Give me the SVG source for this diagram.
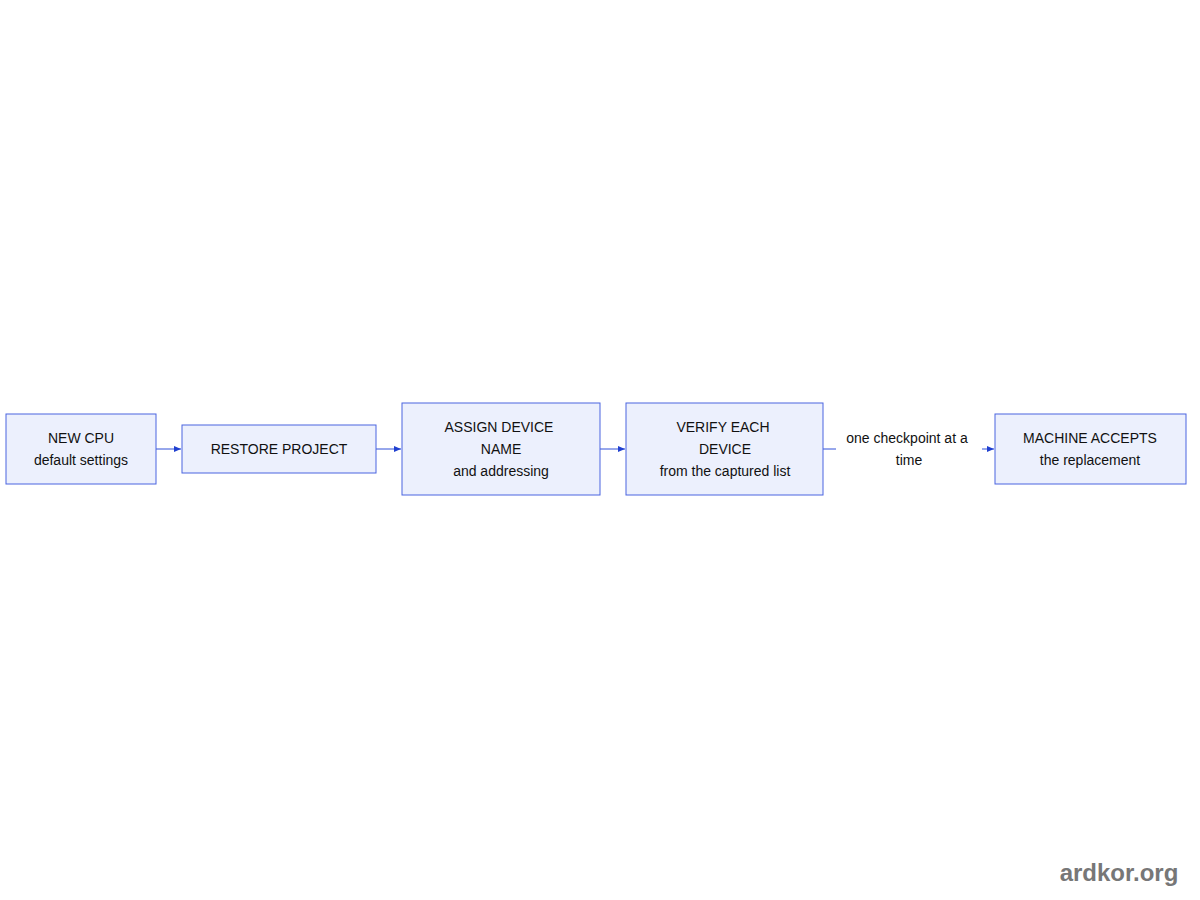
<svg xmlns="http://www.w3.org/2000/svg" width="1200" height="900" viewBox="0 0 1200 900">
<defs>
<style>
.box{fill:#ecf0fd;stroke:#4a64e0;stroke-width:1}
text{font-family:"Liberation Sans",Arial,sans-serif;font-size:14px;fill:#111;text-anchor:middle}
.edge{stroke:#3050d8;stroke-width:1;fill:none}
</style>
<marker id="ah" markerWidth="8" markerHeight="8" refX="7" refY="4" orient="auto" markerUnits="userSpaceOnUse"><path d="M0,1 L7,4 L0,7 z" fill="#2040d0"/></marker>
</defs>
<rect width="1200" height="900" fill="#fff"/>
<g id="connectors">
<line class="edge" x1="156" y1="449" x2="181" y2="449" marker-end="url(#ah)"/>
<line class="edge" x1="376" y1="449" x2="401" y2="449" marker-end="url(#ah)"/>
<line class="edge" x1="600" y1="449" x2="625" y2="449" marker-end="url(#ah)"/>
<line class="edge" x1="823" y1="449" x2="836" y2="449"/>
<line class="edge" x1="982" y1="449" x2="994" y2="449" marker-end="url(#ah)"/>
<text x="907" y="443">one checkpoint at a</text>
<text x="909" y="465">time</text>
</g>
<g id="n1"><rect class="box" x="6" y="414" width="150" height="70"/><text x="81" y="443">NEW CPU</text><text x="81" y="465">default settings</text></g>
<g id="n2"><rect class="box" x="182" y="425" width="194" height="48"/><text x="279" y="454">RESTORE PROJECT</text></g>
<g id="n3"><rect class="box" x="402" y="403" width="198" height="92"/><text x="499" y="432">ASSIGN DEVICE</text><text x="501" y="454">NAME</text><text x="501" y="476">and addressing</text></g>
<g id="n4"><rect class="box" x="626" y="403" width="197" height="92"/><text x="723" y="432">VERIFY EACH</text><text x="725" y="454">DEVICE</text><text x="725" y="476">from the captured list</text></g>
<g id="n5"><rect class="box" x="995" y="414" width="191" height="70"/><text x="1090" y="443">MACHINE ACCEPTS</text><text x="1090" y="465">the replacement</text></g>
<text x="1119" y="881" style="font-size:24px;font-weight:bold;fill:#777">ardkor.org</text>
</svg>
